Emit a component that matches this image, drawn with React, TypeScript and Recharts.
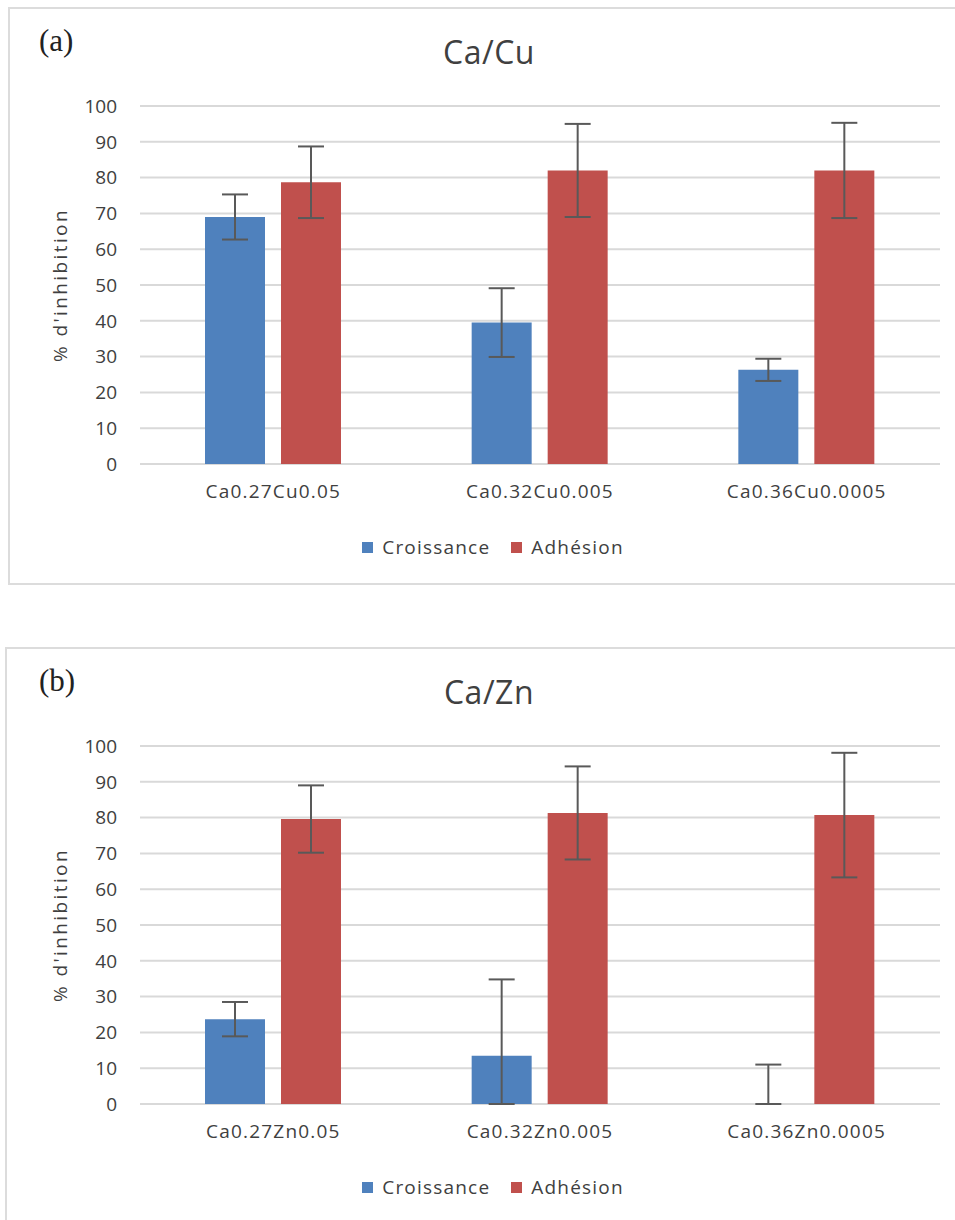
import React from 'react'
import { Bar, BarChart, CartesianGrid, ErrorBar, Legend, XAxis, YAxis } from 'recharts'

const categoriesCu = ['Ca0.27Cu0.05', 'Ca0.32Cu0.005', 'Ca0.36Cu0.0005']
const croissanceCu = [69, 39.5, 26.3]
const croissanceCuErr = [6.3, 9.6, 3.1]
const adhesionCu = [78.7, 82, 82]
const adhesionCuErr = [10, 13, 13.3]

const categoriesZn = ['Ca0.27Zn0.05', 'Ca0.32Zn0.005', 'Ca0.36Zn0.0005']
// third value is ~0 (no visible bar), only the whisker shows
const croissanceZn = [23.7, 13.5, 0.01]
// [below, above] — the lower whisker stops at the axis
const croissanceZnErr: Array<[number, number]> = [[4.8, 4.8], [13.5, 21.3], [0.01, 11]]
const adhesionZn = [79.6, 81.3, 80.7]
const adhesionZnErr = [9.4, 13, 17.4]

const yTicks = [0, 10, 20, 30, 40, 50, 60, 70, 80, 90, 100]

const BLUE = '#4F81BD'
const RED = '#C0504D'
const TEXT = '#404040'
const FONT = '"Open Sans", sans-serif'

type Row = { name: string; croissance: number; croissanceErr: number | [number, number]; adhesion: number; adhesionErr: number }

function buildRows(
  cats: string[],
  cro: number[],
  croErr: Array<number | [number, number]>,
  adh: number[],
  adhErr: number[],
): Row[] {
  return cats.map((name, i) => ({
    name,
    croissance: cro[i],
    croissanceErr: croErr[i],
    adhesion: adh[i],
    adhesionErr: adhErr[i],
  }))
}

function LegendContent() {
  const items = [
    { label: 'Croissance', color: BLUE },
    { label: 'Adhésion', color: RED },
  ]
  return (
    <div style={{ display: 'flex', justifyContent: 'center', alignItems: 'center', fontFamily: FONT, paddingLeft: 8 }}>
      {items.map((it, i) => (
        <div key={it.label} style={{ display: 'flex', alignItems: 'center', marginRight: i === 0 ? 21 : 0 }}>
          <span style={{ width: 11, height: 11, background: it.color, display: 'inline-block', marginRight: 9 }} />
          <span style={{ fontSize: 19, letterSpacing: 1.2, color: TEXT }}>{it.label}</span>
        </div>
      ))}
    </div>
  )
}

function Panel({ tag, title, rows, top, height, boxLeft }: { tag: string; title: string; rows: Row[]; top: number; height: number; boxLeft: number }) {
  return (
    <>
      <div
        style={{
          position: 'absolute',
          left: boxLeft,
          top: top + 7,
          width: 980,
          height: 578,
          border: '2px solid #dcdcdc',
          boxSizing: 'border-box',
        }}
      />
      <div
        style={{
          position: 'absolute',
          left: 39,
          top: top + 25,
          fontFamily: '"Liberation Serif", serif',
          fontSize: 31,
          lineHeight: 1,
          color: '#222',
        }}
      >
        {tag}
      </div>
      <div
        style={{
          position: 'absolute',
          left: 389,
          width: 200,
          top: top + 36,
          textAlign: 'center',
          fontFamily: FONT,
          fontSize: 32,
          lineHeight: 1,
          letterSpacing: 0.5,
          color: TEXT,
        }}
      >
        {title}
      </div>
      <div style={{ position: 'absolute', left: 0, top }}>
        <BarChart
          width={955}
          height={height}
          data={rows}
          margin={{ top: 106, right: 15, bottom: height - 560, left: 38 }}
          barGap={16}
        >
          <CartesianGrid vertical={false} stroke="#d9d9d9" strokeWidth={2} />
          <XAxis
            dataKey="name"
            axisLine={false}
            tickLine={false}
            tickSize={0}
            tickMargin={21}
            height={70}
            tick={{ fill: TEXT, fontSize: 19, fontFamily: FONT, letterSpacing: 1.2 }}
          />
          <YAxis
            domain={[0, 100]}
            ticks={yTicks}
            interval={0}
            width={102}
            axisLine={false}
            tickLine={false}
            tickSize={0}
            tickMargin={23}
            tick={{ fill: TEXT, fontSize: 19, fontFamily: FONT }}
            label={{
              value: "% d'inhibition",
              angle: -90,
              position: 'insideLeft',
              offset: 22,
              style: { fill: TEXT, fontSize: 19, fontFamily: FONT, letterSpacing: 2.4, textAnchor: 'middle' },
            }}
          />
          <Legend verticalAlign="bottom" content={<LegendContent />} />
          <Bar dataKey="croissance" name="Croissance" fill={BLUE} barSize={60} isAnimationActive={false}>
            <ErrorBar dataKey="croissanceErr" width={13} stroke="#595959" strokeWidth={2} direction="y" />
          </Bar>
          <Bar dataKey="adhesion" name="Adhésion" fill={RED} barSize={60} isAnimationActive={false}>
            <ErrorBar dataKey="adhesionErr" width={13} stroke="#595959" strokeWidth={2} direction="y" />
          </Bar>
        </BarChart>
      </div>
    </>
  )
}

export default function App() {
  const rowsCu = buildRows(categoriesCu, croissanceCu, croissanceCuErr, adhesionCu, adhesionCuErr)
  const rowsZn = buildRows(categoriesZn, croissanceZn, croissanceZnErr, adhesionZn, adhesionZnErr)
  return (
    <div
      style={{
        position: 'absolute',
        left: 0,
        top: 0,
        width: 955,
        height: 1220,
        overflow: 'hidden',
        background: '#fff',
      }}
    >
      <Panel tag="(a)" title="Ca/Cu" rows={rowsCu} top={0} height={600} boxLeft={8} />
      <Panel tag="(b)" title="Ca/Zn" rows={rowsZn} top={640} height={580} boxLeft={5} />
    </div>
  )
}
